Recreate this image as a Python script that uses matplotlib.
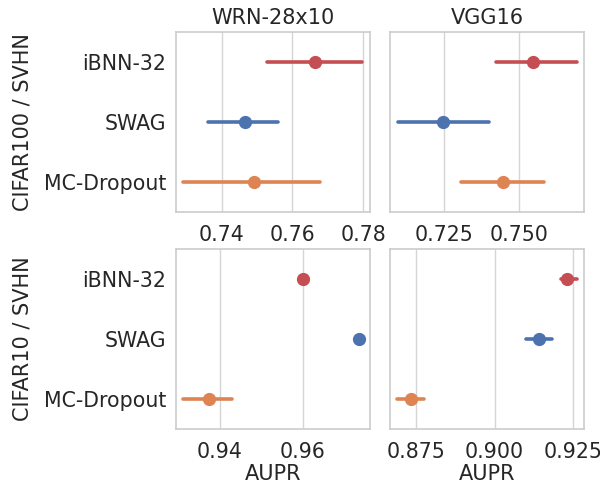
import matplotlib
matplotlib.use("Agg")
import matplotlib.pyplot as plt
import seaborn as sns

sns.set_theme(style="whitegrid")
plt.rcParams['font.family'] = ['DejaVu Sans']

methods = ["iBNN-32", "SWAG", "MC-Dropout"]
colors = ["#C44E52", "#4C72B0", "#DD8452"]
models = ["WRN-28x10", "VGG16"]
datasets = ["CIFAR100 / SVHN", "CIFAR10 / SVHN"]

# mean, low, high per method
c100_wrn_mean = [0.7664, 0.7466, 0.7492]
c100_wrn_lo   = [0.7528, 0.7360, 0.7292]
c100_wrn_hi   = [0.7796, 0.7560, 0.7678]

c100_vgg_mean = [0.7547, 0.7245, 0.7447]
c100_vgg_lo   = [0.7422, 0.7095, 0.7306]
c100_vgg_hi   = [0.7691, 0.7398, 0.7584]

c10_wrn_mean = [0.9602, 0.9737, 0.9373]
c10_wrn_lo   = [0.9601, 0.9736, 0.9312]
c10_wrn_hi   = [0.9603, 0.9738, 0.9430]

c10_vgg_mean = [0.9232, 0.9141, 0.8733]
c10_vgg_lo   = [0.9211, 0.9100, 0.8690]
c10_vgg_hi   = [0.9264, 0.9183, 0.8776]

panels = [
    [(c100_wrn_mean, c100_wrn_lo, c100_wrn_hi), (c100_vgg_mean, c100_vgg_lo, c100_vgg_hi)],
    [(c10_wrn_mean, c10_wrn_lo, c10_wrn_hi), (c10_vgg_mean, c10_vgg_lo, c10_vgg_hi)],
]
xlims = [[(0.7271, 0.7819), (0.7069, 0.7716)],
         [(0.9294, 0.9763), (0.8667, 0.9285)]]
xticks = [[[0.74, 0.76, 0.78], [0.725, 0.750]],
          [[0.94, 0.96], [0.875, 0.900, 0.925]]]
xticklabels = [[["0.74", "0.76", "0.78"], ["0.725", "0.750"]],
               [["0.94", "0.96"], ["0.875", "0.900", "0.925"]]]

fig = plt.figure(figsize=(6.0, 4.91), dpi=100)
W, H = 600, 491
lefts = [176, 390]
widths = [194, 194]
tops = [32, 249]
height = 180

for r in range(2):
    for c in range(2):
        ax = fig.add_axes([lefts[c] / W, 1 - (tops[r] + height) / H,
                           widths[c] / W, height / H])
        mean, lo, hi = panels[r][c]
        for i, m in enumerate(methods):
            ax.plot([lo[i], hi[i]], [i, i], color=colors[i], lw=2.6,
                    solid_capstyle="round", zorder=3)
            ax.plot(mean[i], i, "o", color=colors[i], ms=8.5, zorder=4)
        ax.set_ylim(2.5, -0.5)
        ax.set_xlim(*xlims[r][c])
        ax.set_xticks(xticks[r][c])
        ax.set_xticklabels(xticklabels[r][c], fontsize=14.8)
        ax.set_yticks(range(3))
        ax.grid(axis="y", visible=False)
        ax.grid(axis="x", color="#d5d5d5", lw=1.0)
        for s in ax.spines.values():
            s.set_color("#cccccc")
            s.set_linewidth(1.2)
        ax.tick_params(axis="y", length=0, pad=7, colors="#262626")
        ax.tick_params(axis="x", length=0, pad=9.5, colors="#262626")
        if c == 0:
            ax.set_yticklabels(methods, fontsize=14.8)
            ax.set_ylabel(datasets[r], fontsize=15, color="#262626", labelpad=8)
        else:
            ax.set_yticklabels([])
        if r == 0:
            ax.set_title(models[c], fontsize=15, color="#262626", pad=6)
        else:
            ax.set_xlabel("AUPR", fontsize=15, color="#262626", labelpad=1)

fig.savefig("out.png", dpi=100, facecolor="white")
